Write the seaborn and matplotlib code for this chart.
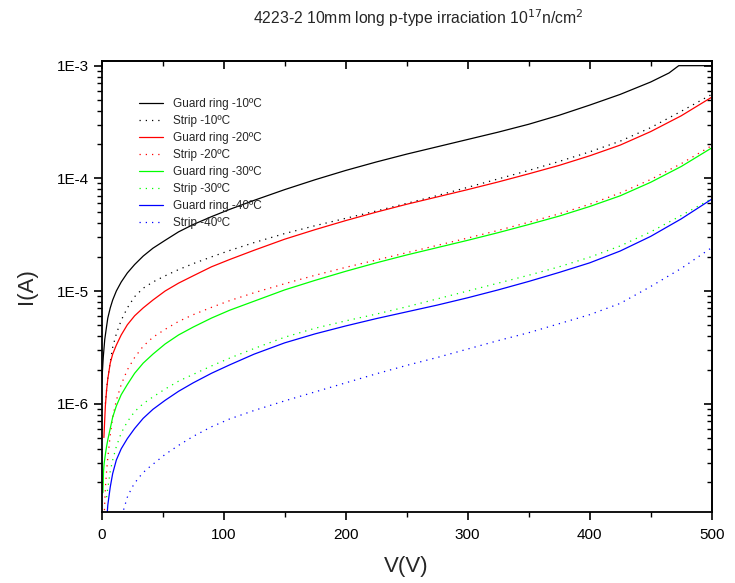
import numpy as np
import pandas as pd
import matplotlib
matplotlib.use("Agg")
import matplotlib.pyplot as plt
import seaborn as sns
from matplotlib.ticker import FixedLocator, LogLocator, NullFormatter, MultipleLocator

# ---------------- data (currents given as log10(I/A)) ----------------
hi_v = [52, 63, 75, 90, 105, 125, 150, 175, 200, 225, 250, 275, 300, 325, 350, 375, 400, 425, 450]

gr10_v = [0, 1.3, 2.5, 4, 5, 7, 9, 12, 16, 21, 27, 34, 42] + hi_v + [465, 473, 500]
gr10_log = [-5.82, -5.585, -5.43, -5.314, -5.24, -5.15, -5.08, -5.0, -4.92, -4.84, -4.765, -4.69, -4.62,
            -4.55, -4.475, -4.41, -4.34, -4.275, -4.195, -4.10, -4.012, -3.93, -3.855, -3.785, -3.72,
            -3.655, -3.59, -3.52, -3.44, -3.35, -3.255, -3.145, -3.065, -3.0, -3.0]

st10_v = [3, 4, 5, 7, 9, 12, 16, 21, 27, 34, 42] + hi_v + [475, 500]
st10_log = [-6.0, -5.88, -5.77, -5.63, -5.5, -5.38, -5.26, -5.15, -5.05, -4.975, -4.92,
            -4.865, -4.81, -4.757, -4.697, -4.64, -4.57, -4.49, -4.42, -4.355, -4.29, -4.222, -4.153,
            -4.08, -4.005, -3.93, -3.85, -3.765, -3.67, -3.55, -3.405, -3.255]

gr20_v = [1.8, 3, 4, 5, 7, 9, 12, 16, 21, 27, 34, 42] + hi_v + [475, 500]
gr20_log = [-6.3, -6.02, -5.88, -5.78, -5.64, -5.56, -5.48, -5.39, -5.30, -5.22, -5.15, -5.08,
            -5.0, -4.93, -4.865, -4.785, -4.72, -4.638, -4.54, -4.455, -4.375, -4.30, -4.23, -4.165,
            -4.10, -4.032, -3.96, -3.885, -3.80, -3.705, -3.585, -3.445, -3.28]

st20_v = [2, 3, 4, 5, 7, 9, 12, 16, 21, 27, 34, 42] + hi_v + [475, 500]
st20_log = [-7.0, -6.75, -6.6, -6.48, -6.28, -6.12, -5.97, -5.83, -5.70, -5.59, -5.49, -5.41,
            -5.34, -5.27, -5.21, -5.145, -5.085, -5.015, -4.935, -4.86, -4.79, -4.725, -4.66, -4.595,
            -4.53, -4.462, -4.39, -4.315, -4.23, -4.13, -4.01, -3.87, -3.71]

gr30_v = [1, 1.5, 2, 3, 4, 5, 7, 9, 12, 16, 21, 27, 34, 42] + hi_v + [475, 500]
gr30_log = [-6.79, -6.6, -6.53, -6.45, -6.38, -6.32, -6.22, -6.12, -6.02, -5.92, -5.83, -5.73, -5.64, -5.56,
            -5.47, -5.39, -5.32, -5.24, -5.17, -5.09, -4.99, -4.905, -4.825, -4.75, -4.68, -4.615,
            -4.55, -4.482, -4.41, -4.335, -4.25, -4.155, -4.035, -3.895, -3.73]

st30_v = [4, 5, 7, 9, 12, 16, 21, 27, 34, 42] + hi_v + [475, 500]
st30_log = [-6.83, -6.75, -6.6, -6.5, -6.38, -6.26, -6.16, -6.07, -6.0, -5.94,
            -5.87, -5.80, -5.74, -5.665, -5.595, -5.51, -5.41, -5.33, -5.265, -5.205, -5.14, -5.07,
            -5.0, -4.93, -4.86, -4.785, -4.70, -4.60, -4.475, -4.33, -4.18]

gr40_v = [4, 5, 7, 9, 12, 16, 21, 27, 34, 42] + hi_v + [475, 500]
gr40_log = [-7.05, -6.9, -6.74, -6.62, -6.5, -6.4, -6.31, -6.22, -6.13, -6.05,
            -5.97, -5.89, -5.815, -5.73, -5.655, -5.56, -5.46, -5.38, -5.31, -5.245, -5.185, -5.125,
            -5.06, -4.99, -4.915, -4.835, -4.75, -4.645, -4.515, -4.36, -4.185]

st40_v = [16, 18, 21, 25, 30, 36, 44] + hi_v + [475, 500]
st40_log = [-7.05, -6.94, -6.83, -6.74, -6.66, -6.59, -6.52,
            -6.45, -6.37, -6.29, -6.205, -6.135, -6.06, -5.975, -5.895, -5.815, -5.735, -5.66, -5.59,
            -5.515, -5.44, -5.37, -5.29, -5.21, -5.11, -4.96, -4.80, -4.615]

labels = ["Guard ring -10ºC", "Strip -10ºC", "Guard ring -20ºC", "Strip -20ºC",
          "Guard ring -30ºC", "Strip -30ºC", "Guard ring -40ºC", "Strip -40ºC"]
series_v = [gr10_v, st10_v, gr20_v, st20_v, gr30_v, st30_v, gr40_v, st40_v]
series_log = [gr10_log, st10_log, gr20_log, st20_log, gr30_log, st30_log, gr40_log, st40_log]
colors = ["#000000", "#000000", "#ff0000", "#ff0000", "#00ff00", "#00ff00", "#0000ff", "#0000ff"]

title = "4223-2 10mm long p-type irraciation 10$^{17}$n/cm$^{2}$"
xticks = [0, 100, 200, 300, 400, 500]
yticks = [1e-6, 1e-5, 1e-4, 1e-3]
ytick_labels = ["1E-6", "1E-5", "1E-4", "1E-3"]

# ---------------- build dataframe ----------------
frames = []
for lab, v, lg in zip(labels, series_v, series_log):
    assert len(v) == len(lg), lab
    frames.append(pd.DataFrame({"V": v, "I": np.power(10.0, lg), "series": lab}))
df = pd.concat(frames, ignore_index=True)

sns.set_style("white")
plt.rcParams["font.family"] = ["Liberation Sans", "DejaVu Sans"]

fig = plt.figure(figsize=(7.35, 5.83), dpi=100)
ax = fig.add_axes([101.7 / 735, 1 - 511.7 / 583, 610 / 735, (511.7 - 61) / 583])

palette = dict(zip(labels, colors))
dashes = {lab: ("" if lab.startswith("Guard") else (1, 4)) for lab in labels}

sns.lineplot(data=df, x="V", y="I", hue="series", style="series",
             hue_order=labels, style_order=labels, palette=palette,
             dashes=dashes, estimator=None, sort=False, linewidth=0.9, ax=ax)

ax.set_yscale("log")
ax.set_xlim(0, 500)
ax.set_ylim(1.1e-7, 1.1e-3)

ax.yaxis.set_major_locator(FixedLocator(yticks))
ax.set_yticklabels(ytick_labels)
ax.yaxis.set_minor_locator(LogLocator(base=10, subs=np.arange(2, 10)))
ax.yaxis.set_minor_formatter(NullFormatter())
ax.xaxis.set_major_locator(FixedLocator(xticks))
ax.set_xticklabels([str(t) for t in xticks])
ax.xaxis.set_minor_locator(MultipleLocator(50))

ax.tick_params(which="both", left=True, bottom=True, top=False, right=False)
ax.tick_params(which="major", direction="out", length=6, width=1.2, labelsize=11, colors="black")
ax.tick_params(which="minor", direction="out", length=3.5, width=1.0, colors="black")
ax.tick_params(axis="x", pad=6)

for s in ax.spines.values():
    s.set_linewidth(1.3)
    s.set_color("black")
    s.set_visible(True)

secx = ax.secondary_xaxis("top")
secx.xaxis.set_major_locator(FixedLocator(xticks))
secx.xaxis.set_minor_locator(MultipleLocator(50))
secx.tick_params(which="both", top=True, labeltop=False)
secx.tick_params(which="major", direction="in", length=6, width=1.2, colors="black")
secx.tick_params(which="minor", direction="in", length=3.5, width=1.0, colors="black")
secx.spines["top"].set_linewidth(1.3)

secy = ax.secondary_yaxis("right")
secy.yaxis.set_major_locator(FixedLocator(yticks))
secy.yaxis.set_minor_locator(LogLocator(base=10, subs=np.arange(2, 10)))
secy.yaxis.set_minor_formatter(NullFormatter())
secy.tick_params(which="both", right=True, labelright=False)
secy.tick_params(which="major", direction="in", length=6, width=1.2, colors="black")
secy.tick_params(which="minor", direction="in", length=3.5, width=1.0, colors="black")
secy.spines["right"].set_linewidth(1.3)

ax.set_xlabel("V(V)", fontsize=16, labelpad=10)
ax.set_ylabel("I(A)", fontsize=16, labelpad=14)

fig.text(418 / 735, 1 - 18 / 583, title, ha="center", va="center", fontsize=11.3)

leg = ax.legend(loc="upper left", bbox_to_anchor=(0.061, 0.918), frameon=False,
                fontsize=8.5, handlelength=2.0, handletextpad=0.9, labelspacing=0.42,
                borderpad=0, borderaxespad=0)

fig.savefig("out.png", dpi=100)
